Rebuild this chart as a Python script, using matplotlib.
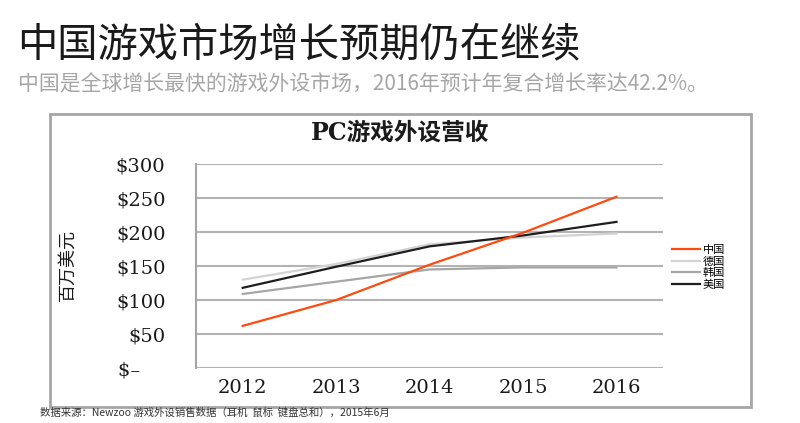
import matplotlib.pyplot as plt
from matplotlib.patches import Rectangle

plt.rcParams['font.family'] = ['Noto Sans CJK SC', 'DejaVu Sans']

# data (millions USD)
years = ['2012', '2013', '2014', '2015', '2016']
china = [62, 100, 152, 199, 252]
germany = [130, 153, 182, 192, 198]
korea = [109, 127, 145, 148, 148]
usa = [118, 149, 179, 195, 215]

yticks = [0, 50, 100, 150, 200, 250, 300]
ytick_labels = ['$–    ', '$50', '$100', '$150', '$200', '$250', '$300']

serif = ['DejaVu Serif', 'Noto Sans CJK SC']

fig = plt.figure(figsize=(8, 4.23), dpi=100)

# header
fig.text(0.022, 0.893, '中国游戏市场增长预期仍在继续', fontsize=29, color='#1a1a1a',
         va='center', ha='left')
fig.text(0.022, 0.80, '中国是全球增长最快的游戏外设市场，2016年预计年复合增长率达42.2%。',
         fontsize=15, color='#a6a6a6', va='center', ha='left')

# outer chart frame
fig.patches.append(Rectangle((0.0625, 0.038), 0.876, 0.693, transform=fig.transFigure,
                             fill=False, edgecolor='#a6a6a6', linewidth=2))

ax = fig.add_axes([0.245, 0.130, 0.584, 0.482])

ax.plot(range(len(years)), germany, color='#d3d3d3', lw=1.6, label='德国', zorder=3)
ax.plot(range(len(years)), korea, color='#a6a6a6', lw=1.6, label='韩国', zorder=3)
ax.plot(range(len(years)), usa, color='#1e1e1e', lw=1.6, label='美国', zorder=4)
ax.plot(range(len(years)), china, color='#ff4a0f', lw=1.6, label='中国', zorder=5)

ax.set_xlim(-0.5, len(years) - 0.5)
ax.set_ylim(0, 300)
ax.set_xticks(range(len(years)))
ax.set_xticklabels(years, family=serif, fontsize=14, color='#1a1a1a')
ax.set_yticks(yticks)
ax.set_yticklabels(ytick_labels, family=serif, fontsize=14, color='#1a1a1a')
ax.tick_params(axis='both', length=0)
ax.tick_params(axis='y', pad=22)
ax.tick_params(axis='x', pad=8)

ax.yaxis.grid(True, color='#b3b3b3', lw=1.5)
ax.set_axisbelow(True)
for s in ['top', 'right', 'bottom']:
    ax.spines[s].set_visible(False)
ax.spines['left'].set_color('#a6a6a6')
ax.spines['left'].set_linewidth(1.5)

# chart title and y label
fig.text(0.5, 0.686, 'PC游戏外设营收', family=serif, fontweight='bold', fontsize=17,
         ha='center', va='center', color='#1a1a1a')
fig.text(0.085, 0.373, '百万美元', fontsize=13, rotation=90, ha='center', va='center',
         color='#1a1a1a')

# legend in order 中国, 德国, 韩国, 美国
handles, labels = ax.get_legend_handles_labels()
order = [3, 0, 1, 2]
fig.legend([handles[i] for i in order], [labels[i] for i in order],
           loc='upper left', bbox_to_anchor=(0.84, 0.42), frameon=False,
           fontsize=8, handlelength=2.5, handletextpad=0.25, labelspacing=0.12,
           borderpad=0, borderaxespad=0)

# source note
fig.text(0.05, 0.025, '数据来源：Newzoo 游戏外设销售数据（耳机  鼠标  键盘总和），2015年6月',
         fontsize=7.5, color='#333333', ha='left', va='center')

plt.savefig('out.png', dpi=100)
